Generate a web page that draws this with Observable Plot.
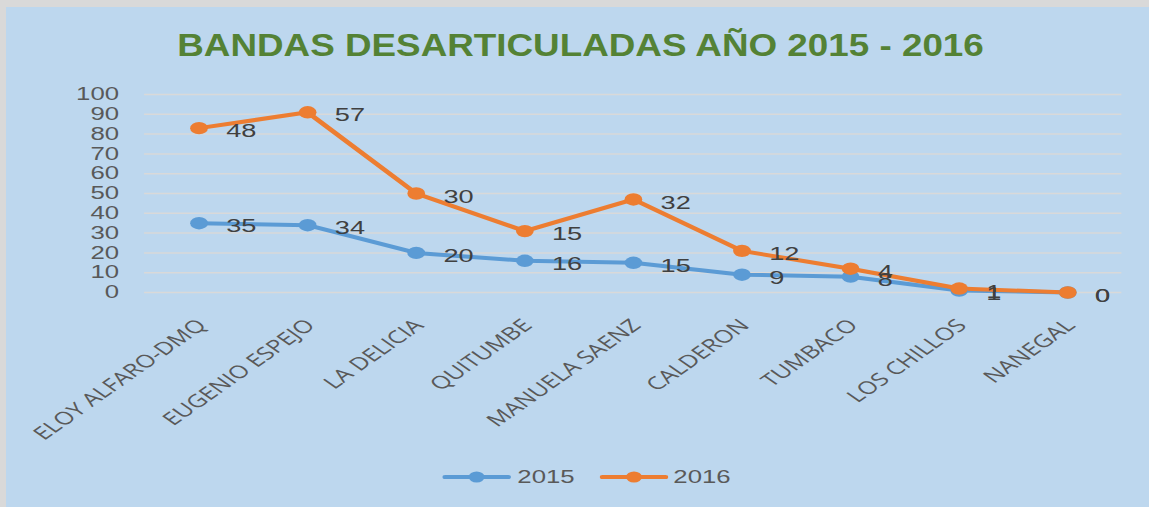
<!DOCTYPE html>
<html>
<head>
<meta charset="utf-8">
<script src="https://cdn.jsdelivr.net/npm/d3@7"></script>
<script src="https://cdn.jsdelivr.net/npm/@observablehq/plot@0.6"></script>
<style>
  html, body { margin: 0; padding: 0; background: #ffffff; }
  #frame {
    width: 1143px; height: 500px;
    border-top: 7px solid #d9d9d9; border-left: 6px solid #d9d9d9;
    background: #BDD7EE; position: relative; overflow: hidden;
  }
  #inner {
    width: 799px; height: 500px;
    transform: scaleX(1.4305); transform-origin: 0 0;
  }
  #title {
    height: 70px; line-height: 78px; text-align: center; white-space: nowrap;
    font-family: "Liberation Sans", sans-serif;
    font-weight: bold; font-size: 31px; color: #548235;
    padding-left: 5px;
  }
  #title span { display: inline-block; transform: scaleX(0.83); }
  #legend {
    display: flex; justify-content: center; align-items: center; gap: 17px;
    height: 48px; padding-left: 13px; padding-top: 1px;
    font-family: "Liberation Sans", sans-serif; font-size: 18px; color: #595959;
  }
  .item { display: flex; align-items: center; gap: 4px; }
  svg { display: block; }
</style>
</head>
<body>
<div id="frame">
  <div id="inner">
    <div id="title"><span>BANDAS DESARTICULADAS AÑO 2015 - 2016</span></div>
    <div id="chart"></div>
    <div id="legend"></div>
  </div>
</div>
<script>
const categories = ["ELOY ALFARO-DMQ", "EUGENIO ESPEJO", "LA DELICIA", "QUITUMBE", "MANUELA SAENZ", "CALDERON", "TUMBACO", "LOS CHILLOS", "NANEGAL"];
const values2015 = [35, 34, 20, 16, 15, 9, 8, 1, 0];
const values2016 = [48, 57, 30, 15, 32, 12, 4, 1, 0];
const seriesNames = ["2015", "2016"];
const seriesColors = ["#5B9BD5", "#ED7D31"];
const yTicks = [0, 10, 20, 30, 40, 50, 60, 70, 80, 90, 100];

const data = [];
[values2015, values2016].forEach((vals, si) => {
  vals.forEach((v, i) => data.push({ cat: categories[i], value: v, series: seriesNames[si] }));
});

const stackOpts = { x: "cat", y: "value", z: "series", order: null };

const chart = Plot.plot({
  width: 799,
  height: 375,
  marginLeft: 96.5,
  marginRight: 19.3,
  marginTop: 17,
  marginBottom: 160,
  style: { background: "transparent", overflow: "visible" },
  x: { type: "point", domain: categories, padding: 0.5, round: false, label: null },
  y: { domain: [0, 100], label: null },
  color: { domain: seriesNames, range: seriesColors },
  marks: [
    Plot.gridY(yTicks, { stroke: "#d9d9d9", strokeOpacity: 1, strokeWidth: 1.5 }),
    Plot.axisY(yTicks, {
      tickSize: 0, tickPadding: 18, label: null,
      fontSize: 18, fontFamily: "Liberation Sans, sans-serif", fill: "#595959"
    }),
    Plot.axisX({
      tickSize: 0, tickRotate: -45, tickPadding: 30, dx: 2, label: null,
      fontSize: 17.8, fontFamily: "Open Sans, sans-serif", fill: "#595959"
    }),
    Plot.lineY(data, Plot.stackY2({ ...stackOpts, stroke: "series", strokeWidth: 4 })),
    Plot.dot(data, Plot.stackY2({ ...stackOpts, fill: "series", r: 6.2 })),
    Plot.text(data, Plot.stackY2({
      ...stackOpts, text: (d) => String(d.value), textAnchor: "start",
      dx: 19, dy: 3, fontSize: 19, fontFamily: "Liberation Sans, sans-serif", fill: "#404040"
    }))
  ]
});
document.getElementById("chart").appendChild(chart);

const legend = document.getElementById("legend");
seriesNames.forEach((name, i) => {
  const item = document.createElement("div");
  item.className = "item";
  item.innerHTML = `<svg width="48" height="14"><line x1="2" x2="46" y1="7" y2="7" stroke="${seriesColors[i]}" stroke-width="4" stroke-linecap="round"/><circle cx="24" cy="7" r="5.5" fill="${seriesColors[i]}"/></svg><span>${name}</span>`;
  legend.appendChild(item);
});
</script>
</body>
</html>
